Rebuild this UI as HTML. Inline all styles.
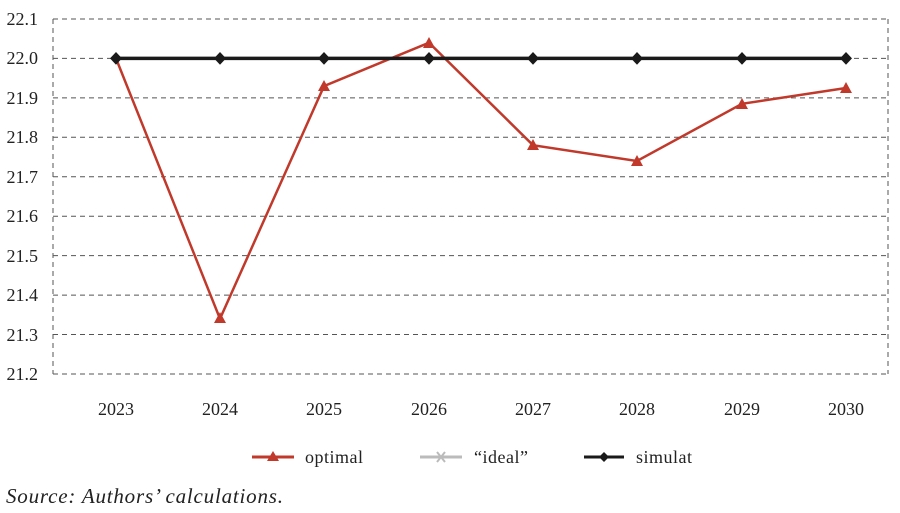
<!DOCTYPE html>
<html><head><meta charset="utf-8"><style>body{margin:0;background:#fff}svg{display:block}</style></head><body>
<svg width="900" height="513" xmlns="http://www.w3.org/2000/svg" font-family="Liberation Serif, serif">
<g stroke="#555" stroke-width="1" stroke-dasharray="5,4" fill="none">
<path d="M53 19H888M53 58.4H888M53 97.9H888M53 137.3H888M53 176.8H888M53 216.2H888M53 255.6H888M53 295.1H888M53 334.5H888M53 374H888M53 19V374M888 19V374"/>
</g>
<g font-size="18" fill="#222" text-anchor="end">
<text x="38" y="25">22.1</text><text x="38" y="64">22.0</text><text x="38" y="104">21.9</text><text x="38" y="143">21.8</text><text x="38" y="183">21.7</text><text x="38" y="222">21.6</text><text x="38" y="262">21.5</text><text x="38" y="301">21.4</text><text x="38" y="341">21.3</text><text x="38" y="380">21.2</text>
</g>
<g font-size="18" fill="#222" text-anchor="middle">
<text x="116" y="415">2023</text><text x="220" y="415">2024</text><text x="324" y="415">2025</text><text x="429" y="415">2026</text><text x="533" y="415">2027</text><text x="637" y="415">2028</text><text x="742" y="415">2029</text><text x="846" y="415">2030</text>
</g>
<polyline points="116,58.4 220,318.8 324,86.1 429,42.7 533,145.2 637,161 742,103.8 846,88" fill="none" stroke="#c0392b" stroke-width="2.5"/>
<polyline points="116,58.4 846,58.4" fill="none" stroke="#1a1a1a" stroke-width="3.5"/>
<g fill="#c0392b">
<path d="M220 312l6 11h-12z M324 80l6 11h-12z M429 37l6 11h-12z M533 139l6 11h-12z M637 155l6 11h-12z M742 98l6 11h-12z M846 82l6 11h-12z"/>
</g>
<g fill="#1a1a1a">
<path d="M116 52l6 6.4-6 6.4-6-6.4z M220 52l6 6.4-6 6.4-6-6.4z M324 52l6 6.4-6 6.4-6-6.4z M429 52l6 6.4-6 6.4-6-6.4z M533 52l6 6.4-6 6.4-6-6.4z M637 52l6 6.4-6 6.4-6-6.4z M742 52l6 6.4-6 6.4-6-6.4z M846 52l6 6.4-6 6.4-6-6.4z"/>
</g>
<line x1="252" y1="457" x2="294" y2="457" stroke="#c0392b" stroke-width="3"/>
<path d="M273 451l6 10h-12z" fill="#c0392b"/>
<text x="305" y="463" font-size="18" fill="#222" textLength="58">optimal</text>
<line x1="420" y1="457" x2="462" y2="457" stroke="#bbb" stroke-width="3"/>
<path d="M437 452l8 10M445 452l-8 10" stroke="#bbb" stroke-width="2"/>
<text x="474" y="463" font-size="18" fill="#222" textLength="54">“ideal”</text>
<line x1="584" y1="457" x2="624" y2="457" stroke="#1a1a1a" stroke-width="3"/>
<path d="M604 452l5 5-5 5-5-5z" fill="#1a1a1a"/>
<text x="636" y="463" font-size="18" fill="#222" textLength="56">simulat</text>
<text x="6" y="503" font-size="21" font-style="italic" fill="#222" textLength="277">Source: Authors’ calculations.</text>
</svg>
</body></html>
